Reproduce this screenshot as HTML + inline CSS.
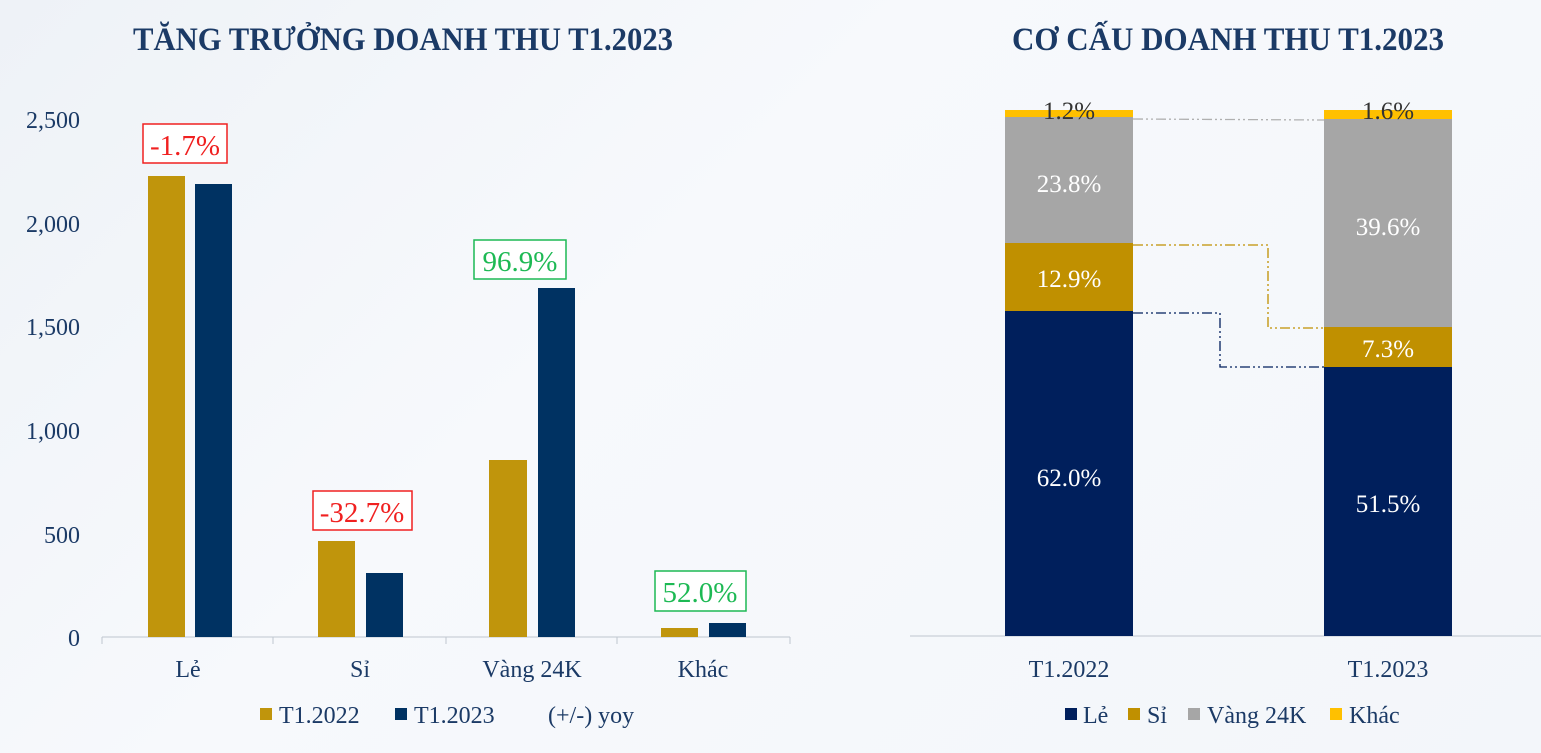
<!DOCTYPE html>
<html><head><meta charset="utf-8"><style>
body{margin:0;width:1541px;height:753px;overflow:hidden;background:linear-gradient(135deg,#eef2f7,#f7f9fc 40%,#f3f6fa);font-family:"Liberation Serif",serif;}
svg{display:block}
</style></head><body>
<svg width="1541" height="753" xmlns="http://www.w3.org/2000/svg" font-family="Liberation Serif, serif">
<text x="133" y="50" font-size="33" font-weight="bold" fill="#1b3a66" textLength="540" lengthAdjust="spacingAndGlyphs">TĂNG TRƯỞNG DOANH THU T1.2023</text>
<text x="1012" y="50" font-size="33" font-weight="bold" fill="#1b3a66" textLength="432" lengthAdjust="spacingAndGlyphs">CƠ CẤU DOANH THU T1.2023</text>
<g font-size="24" fill="#1b3a66" text-anchor="end">
<text x="80" y="128">2,500</text><text x="80" y="232">2,000</text><text x="80" y="335">1,500</text><text x="80" y="439">1,000</text><text x="80" y="543">500</text><text x="80" y="646">0</text>
</g>
<line x1="102" y1="637" x2="790" y2="637" stroke="#bfc6cf" stroke-width="1"/>
<g stroke="#bfc6cf"><line x1="102" y1="637" x2="102" y2="644"/><line x1="273" y1="637" x2="273" y2="644"/><line x1="446" y1="637" x2="446" y2="644"/><line x1="617" y1="637" x2="617" y2="644"/><line x1="790" y1="637" x2="790" y2="644"/></g>
<g fill="#c0950c">
<rect x="148" y="176" width="37" height="461"/><rect x="318" y="541" width="37" height="96"/><rect x="489" y="460" width="38" height="177"/><rect x="661" y="628" width="37" height="9"/></g>
<g fill="#003262">
<rect x="195" y="184" width="37" height="453"/><rect x="366" y="573" width="37" height="64"/><rect x="538" y="288" width="37" height="349"/><rect x="709" y="623" width="37" height="14"/></g>
<g font-size="29" text-anchor="middle">
<rect x="143" y="124" width="84" height="39" fill="#fff" stroke="#f02020" stroke-width="1.5"/><text x="185" y="155" fill="#f02020">-1.7%</text>
<rect x="313" y="491" width="99" height="39" fill="#fff" stroke="#f02020" stroke-width="1.5"/><text x="362" y="522" fill="#f02020">-32.7%</text>
<rect x="474" y="240" width="92" height="39" fill="#fff" stroke="#1db954" stroke-width="1.5"/><text x="520" y="271" fill="#1db954">96.9%</text>
<rect x="655" y="571" width="91" height="40" fill="#fff" stroke="#1db954" stroke-width="1.5"/><text x="700" y="602" fill="#1db954">52.0%</text>
</g>
<g font-size="24" fill="#1b3a66" text-anchor="middle">
<text x="188" y="677">Lẻ</text><text x="360" y="677">Sỉ</text><text x="532" y="677">Vàng 24K</text><text x="703" y="677">Khác</text>
</g>
<g font-size="24" fill="#1b3a66">
<rect x="260" y="708" width="12" height="12" fill="#c0950c"/><text x="279" y="723">T1.2022</text>
<rect x="395" y="708" width="12" height="12" fill="#003262"/><text x="414" y="723">T1.2023</text>
<text x="548" y="723">(+/-) yoy</text>
</g>
<line x1="910" y1="636" x2="1541" y2="636" stroke="#bfc6cf"/>
<rect x="1005" y="110" width="128" height="7" fill="#ffc000"/>
<rect x="1005" y="117" width="128" height="126" fill="#a6a6a6"/>
<rect x="1005" y="243" width="128" height="68" fill="#c09000"/>
<rect x="1005" y="311" width="128" height="325" fill="#001f5c"/>
<rect x="1324" y="110" width="128" height="9" fill="#ffc000"/>
<rect x="1324" y="119" width="128" height="208" fill="#a6a6a6"/>
<rect x="1324" y="327" width="128" height="40" fill="#c09000"/>
<rect x="1324" y="367" width="128" height="269" fill="#001f5c"/>
<g fill="none" stroke-width="1.3" stroke-dasharray="10,3,2,3,2,3">
<polyline points="1133,119 1324,120" stroke="#b0b0b0"/>
<polyline points="1133,245 1268,245 1268,328 1324,328" stroke="#c09000"/>
<polyline points="1133,313 1220,313 1220,367 1324,367" stroke="#001f5c"/>
</g>
<g font-size="25" text-anchor="middle">
<text x="1069" y="119" fill="#333">1.2%</text><text x="1388" y="119" fill="#333">1.6%</text>
<text x="1069" y="192" fill="#fff">23.8%</text><text x="1388" y="235" fill="#fff">39.6%</text>
<text x="1069" y="287" fill="#fff">12.9%</text><text x="1388" y="357" fill="#fff">7.3%</text>
<text x="1069" y="486" fill="#fff">62.0%</text><text x="1388" y="512" fill="#fff">51.5%</text>
</g>
<g font-size="24" fill="#1b3a66" text-anchor="middle">
<text x="1069" y="677">T1.2022</text><text x="1388" y="677">T1.2023</text>
</g>
<g font-size="24" fill="#1b3a66">
<rect x="1065" y="708" width="12" height="12" fill="#001f5c"/><text x="1083" y="723">Lẻ</text>
<rect x="1128" y="708" width="12" height="12" fill="#c09000"/><text x="1147" y="723">Sỉ</text>
<rect x="1188" y="708" width="12" height="12" fill="#a6a6a6"/><text x="1207" y="723">Vàng 24K</text>
<rect x="1330" y="708" width="12" height="12" fill="#ffc000"/><text x="1349" y="723">Khác</text>
</g>
</svg>
</body></html>
